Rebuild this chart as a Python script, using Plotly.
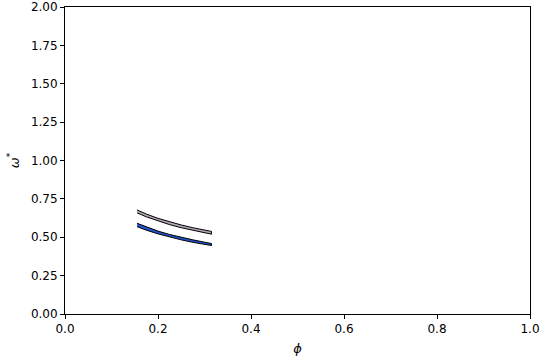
import plotly.graph_objects as go

phi = [0.155, 0.175, 0.200, 0.225, 0.250, 0.275, 0.300, 0.315]

# upper (lavender) band edges
upper_top = [0.678, 0.651, 0.623, 0.600, 0.580, 0.562, 0.546, 0.538]
upper_bot = [0.659, 0.633, 0.605, 0.582, 0.562, 0.545, 0.529, 0.520]

# lower (blue) band edges
lower_top = [0.591, 0.566, 0.540, 0.518, 0.499, 0.483, 0.468, 0.459]
lower_bot = [0.569, 0.546, 0.522, 0.501, 0.483, 0.467, 0.453, 0.446]

fig = go.Figure()

def band(xs, top, bot, fill):
    fig.add_trace(go.Scatter(
        x=xs + xs[::-1], y=top + bot[::-1],
        fill="toself", fillcolor=fill, mode="lines",
        line=dict(color="black", width=1), showlegend=False, hoverinfo="skip"))

band(phi, upper_top, upper_bot, "#b4a4b8")
band(phi, lower_top, lower_bot, "#2352c8")

axis_common = dict(
    showgrid=False, zeroline=False, showline=True, linecolor="black", linewidth=1,
    mirror=True, ticks="outside", ticklen=4, tickwidth=1, tickcolor="black",
    tickfont=dict(family="DejaVu Sans", size=12, color="black"),
    automargin=False, ticklabeloverflow="allow",
)

fig.update_layout(
    width=540, height=360,
    margin=dict(l=65, r=10, t=7, b=46),
    plot_bgcolor="white", paper_bgcolor="white",
    xaxis=dict(range=[0, 1], tickvals=[0, 0.2, 0.4, 0.6, 0.8, 1.0],
               ticktext=["0.0", "0.2", "0.4", "0.6", "0.8", "1.0"],
               title=dict(text="<i>ϕ</i>", font=dict(family="DejaVu Sans", size=13, color="black"), standoff=8),
               **axis_common),
    yaxis=dict(range=[0, 2], tickvals=[0, 0.25, 0.5, 0.75, 1.0, 1.25, 1.5, 1.75, 2.0],
               ticktext=["0.00", "0.25", "0.50", "0.75", "1.00", "1.25", "1.50", "1.75", "2.00"],
               title=dict(text="<i>ω</i><sup>*</sup>", font=dict(family="DejaVu Sans", size=13, color="black"), standoff=8),
               **axis_common),
)

fig.write_html("out.html", config={"displayModeBar": False},
               post_script="document.body.style.margin='0';")
